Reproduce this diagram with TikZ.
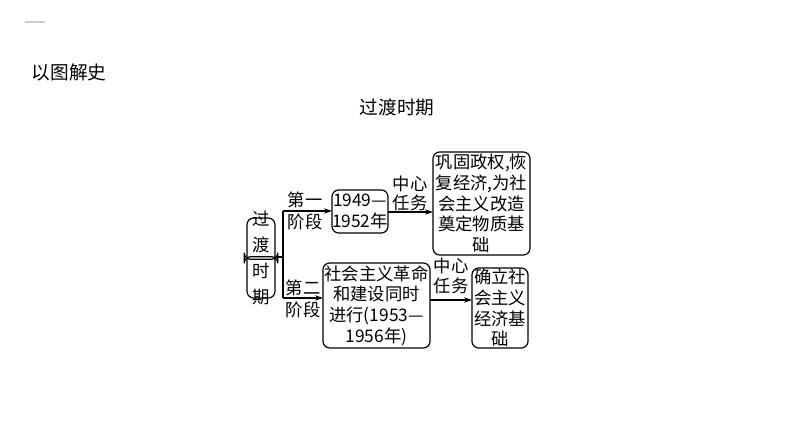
\documentclass[tikz,border=0pt]{standalone}
\usepackage{fontspec}
\setmainfont{Noto Sans CJK SC}
\usetikzlibrary{arrows.meta}
\begin{document}
\begin{tikzpicture}[x=0.75pt,y=-0.75pt,
  bx/.style={draw,rounded corners=5pt,line width=0.9pt,align=center,inner sep=1pt,font=\fontsize{13}{15.5}\selectfont},
  lb/.style={font=\fontsize{13}{15.5}\selectfont,inner sep=0pt},
  ar/.style={line width=0.9pt,-{Stealth[length=6pt,width=4pt]}}]
\useasboundingbox (0,0) rectangle (794,446);
\draw[gray!40,line width=1pt] (25,22) -- (45,22);
\node[anchor=west,font=\fontsize{14}{16}\selectfont] (t1) at (27,72) {以图解史};
\node[font=\fontsize{14}{16}\selectfont] (t2) at (397,107) {过渡时期};
\node[bx,minimum width=28\pgflinewidth] (a) at (261,258) {\makebox[0pt]{}};
\draw[rounded corners=5pt,line width=0.9pt] (247,218) rectangle (275,298);
\node[lb,align=center,font=\fontsize{13}{19.5}\selectfont] (at) at (261,258) {过\\渡\\时\\期};
\draw[rounded corners=5pt,line width=0.9pt] (332,190) rectangle (388,233);
\node[lb,align=center] (b) at (360,211.5) {1949—\\1952年};
\draw[rounded corners=5pt,line width=0.9pt] (433,152) rectangle (530,255);
\node[lb,align=center] (c) at (481.5,203.5) {巩固政权,恢\\复经济,为社\\会主义改造\\奠定物质基\\础};
\draw[rounded corners=5pt,line width=0.9pt] (323,263) rectangle (430,348);
\node[lb,align=center] (d) at (376.5,305.5) {社会主义革命\\和建设同时\\进行(1953—\\1956年)};
\draw[rounded corners=5pt,line width=0.9pt] (472,268) rectangle (528,348);
\node[lb,align=center] (e) at (500,308) {确立社\\会主义\\经济基\\础};
\coordinate (s) at (275,257);
\coordinate (j) at (283,257);
\coordinate (ju) at (283,211);
\coordinate (jd) at (283,298);
\draw[line width=0.9pt] (s) -- (j) (ju) -- (jd);
\draw[ar] (ju) -- (332,211);
\draw[ar] (jd) -- (323,298);
\draw[ar] (388,212) -- (433,212);
\draw[ar] (430,300) -- (472,300);
\node[lb] (l1) at (305,200) {第一};
\node[lb] (l2) at (305,222) {阶段};
\node[lb] (l3) at (303,288) {第二};
\node[lb] (l4) at (303,310) {阶段};
\node[lb] (m1) at (410,184) {中心};
\node[lb] (m2) at (410,203) {任务};
\node[lb] (m3) at (451,266) {中心};
\node[lb] (m4) at (451,286) {任务};
\end{tikzpicture}
\end{document}
